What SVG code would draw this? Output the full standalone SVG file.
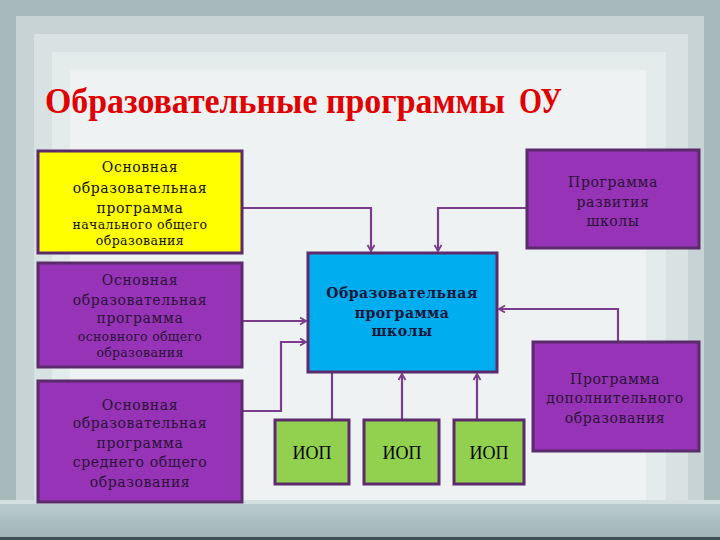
<svg xmlns="http://www.w3.org/2000/svg" width="720" height="540" viewBox="0 0 720 540">
<defs>
<marker id="arr" markerWidth="10" markerHeight="10" refX="7" refY="4" orient="auto" markerUnits="userSpaceOnUse">
<path d="M1,0.5 L7,4 L1,7.5" fill="none" stroke="#7a3d8c" stroke-width="1.8"/>
</marker>
<linearGradient id="band" x1="0" y1="0" x2="0" y2="1">
<stop offset="0" stop-color="#b9cacb"/>
<stop offset="1" stop-color="#9fb4b6"/>
</linearGradient>
</defs>
<style>
.box{stroke:#5b2b6c;stroke-width:3}
.purple{fill:#9733b6}
.yellow{fill:#ffff00}
.blue{fill:#00aeef}
.green{fill:#92d050}
.t{font-family:"DejaVu Serif","Liberation Serif",serif;text-anchor:middle;fill:#2a1438}
.ty{font-family:"DejaVu Serif","Liberation Serif",serif;text-anchor:middle;fill:#111}
.tb{font-family:"DejaVu Serif","Liberation Serif",serif;text-anchor:middle;fill:#14163a;font-weight:bold}
.iop{font-family:"Liberation Serif",serif;text-anchor:middle;fill:#000;font-size:18px}
.ln{fill:none;stroke:#7a3d8c;stroke-width:2.2}
.ttl{font-family:"Liberation Serif",serif;font-weight:bold;font-size:35px;fill:#e00000}
</style>
<!-- background -->
<rect x="0" y="0" width="720" height="540" fill="#a8b9bc"/>
<rect x="16" y="16" width="688" height="490" fill="#c7d3d5"/>
<rect x="34" y="34" width="654" height="472" fill="#d8e2e3"/>
<rect x="52" y="52" width="614" height="454" fill="#e4ebeb"/>
<rect x="70" y="70" width="576" height="436" fill="#eef2f2"/>
<rect x="0" y="500" width="720" height="4" fill="#d4dfe0"/>
<rect x="0" y="504" width="720" height="34" fill="url(#band)"/>
<rect x="0" y="537" width="720" height="3" fill="#3f4f55"/>
<!-- title -->
<text class="ttl" x="45" y="113" textLength="460" lengthAdjust="spacingAndGlyphs">Образовательные программы</text>
<text class="ttl" x="519" y="113" textLength="43" lengthAdjust="spacingAndGlyphs">ОУ</text>
<!-- connectors -->
<g id="connectors">
<path class="ln" d="M243,208 H371 V251" marker-end="url(#arr)"/>
<path class="ln" d="M526,208 H438 V251" marker-end="url(#arr)"/>
<path class="ln" d="M243,321 H306" marker-end="url(#arr)"/>
<path class="ln" d="M243,411 H281 V342 H306" marker-end="url(#arr)"/>
<path class="ln" d="M618,342 V309 H499" marker-end="url(#arr)"/>
<path class="ln" d="M332,420 V373"/>
<path class="ln" d="M402,420 V374" marker-end="url(#arr)"/>
<path class="ln" d="M477,420 V374" marker-end="url(#arr)"/>
</g>
<!-- nodes -->
<g id="n_nach">
<rect class="box yellow" x="38" y="151" width="204" height="102"/>
<text class="ty" font-size="14" letter-spacing="0.6"><tspan x="140" y="172">Основная</tspan><tspan x="140" y="193">образовательная</tspan><tspan x="140" y="213">программа</tspan></text>
<text class="ty" font-size="12.5" letter-spacing="0.4"><tspan x="140" y="229">начального общего</tspan><tspan x="140" y="245">образования</tspan></text>
</g>
<g id="n_osn">
<rect class="box purple" x="38" y="263" width="204" height="104"/>
<text class="t" font-size="14" letter-spacing="0.6"><tspan x="140" y="285">Основная</tspan><tspan x="140" y="305">образовательная</tspan><tspan x="140" y="323">программа</tspan></text>
<text class="t" font-size="12.5" letter-spacing="0.3"><tspan x="140" y="341">основного общего</tspan><tspan x="140" y="357">образования</tspan></text>
</g>
<g id="n_sred">
<rect class="box purple" x="38" y="381" width="204" height="121"/>
<text class="t" font-size="14" letter-spacing="0.6"><tspan x="140" y="410">Основная</tspan><tspan x="140" y="428">образовательная</tspan><tspan x="140" y="448">программа</tspan><tspan x="140" y="467">среднего общего</tspan><tspan x="140" y="487">образования</tspan></text>
</g>
<g id="n_school">
<rect class="box blue" x="308" y="253" width="189" height="119"/>
<text class="tb" font-size="14" letter-spacing="0.5"><tspan x="402" y="298">Образовательная</tspan><tspan x="402" y="318">программа</tspan><tspan x="402" y="336">школы</tspan></text>
</g>
<g id="n_razv">
<rect class="box purple" x="527" y="150" width="172" height="98"/>
<text class="t" font-size="14" letter-spacing="0.6"><tspan x="613" y="187">Программа</tspan><tspan x="613" y="207">развития</tspan><tspan x="613" y="226">школы</tspan></text>
</g>
<g id="n_dop">
<rect class="box purple" x="533" y="342" width="166" height="109"/>
<text class="t" font-size="14" letter-spacing="0.6"><tspan x="615" y="384">Программа</tspan><tspan x="615" y="403">дополнительного</tspan><tspan x="615" y="423">образования</tspan></text>
</g>
<g id="n_iop1">
<rect class="box green" x="275" y="420" width="74" height="64"/>
<text class="iop" x="312" y="459">ИОП</text>
</g>
<g id="n_iop2">
<rect class="box green" x="364" y="420" width="75" height="64"/>
<text class="iop" x="402" y="459">ИОП</text>
</g>
<g id="n_iop3">
<rect class="box green" x="454" y="420" width="70" height="64"/>
<text class="iop" x="489" y="459">ИОП</text>
</g>
</svg>
